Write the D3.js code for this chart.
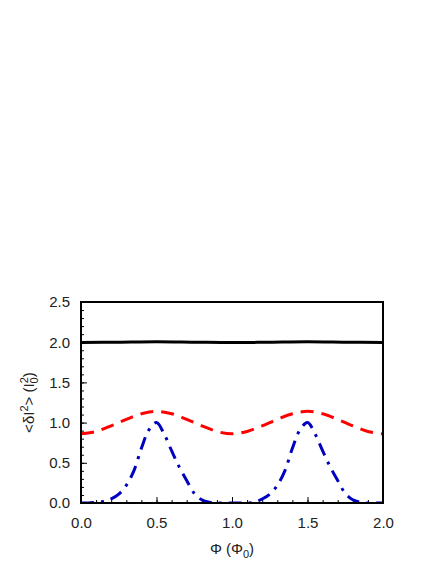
<!DOCTYPE html>
<html>
<head>
<meta charset="utf-8">
<script src="https://cdn.jsdelivr.net/npm/d3@7"></script>
<style>
  body { margin: 0; background: #fff; }
  text { font-family: "Liberation Sans", Arial, sans-serif; }
</style>
</head>
<body>
<div id="chart"></div>
<script>
// flux values (Phi / Phi0)
const phiBlack = [0, 0.25, 0.5, 0.75, 1.0, 1.25, 1.5, 1.75, 2.0];
const black = [1.995, 2.0, 2.005, 2.0, 1.995, 2.0, 2.005, 2.0, 1.995];

const phiRed = [0, 0.1, 0.2, 0.3, 0.4, 0.5, 0.6, 0.7, 0.8, 0.9, 1.0,
                1.1, 1.2, 1.3, 1.4, 1.5, 1.6, 1.7, 1.8, 1.9, 2.0];
const red = [0.86, 0.89, 0.96, 1.04, 1.11, 1.14, 1.11, 1.04, 0.96, 0.89, 0.86,
             0.89, 0.96, 1.04, 1.11, 1.14, 1.11, 1.04, 0.96, 0.89, 0.86];

const phiBlue = [0, 0.05, 0.1, 0.15, 0.2, 0.25, 0.3, 0.35, 0.4, 0.45, 0.5,
                 0.55, 0.6, 0.65, 0.7, 0.75, 0.8, 0.85, 0.9, 0.95, 1.0,
                 1.05, 1.1, 1.15, 1.2, 1.25, 1.3, 1.35, 1.4, 1.45, 1.5,
                 1.55, 1.6, 1.65, 1.7, 1.75, 1.8, 1.85, 1.9, 1.95, 2.0];
const blue = [0, 0, 0.01, 0.02, 0.05, 0.11, 0.22, 0.40, 0.68, 0.91, 1.0,
              0.86, 0.65, 0.45, 0.28, 0.12, 0.04, 0.01, 0, 0, 0,
              0, 0, 0.01, 0.05, 0.11, 0.22, 0.40, 0.68, 0.91, 1.0,
              0.86, 0.65, 0.45, 0.28, 0.12, 0.04, 0.01, 0, 0, 0];

const xTicks = [0, 0.5, 1.0, 1.5, 2.0];
const yTicks = [0, 0.5, 1.0, 1.5, 2.0, 2.5];

let w = 436, h = 564;
let mLeft = 81, mRight = 383, mTop = 302, mBottom = 503;

let svg = d3.select("#chart").append("svg")
    .attr("width", w)
    .attr("height", h);

let xScale = d3.scaleLinear().domain([0, 2]).range([mLeft, mRight]);
let yScale = d3.scaleLinear().domain([0, 2.5]).range([mBottom, mTop]);

svg.append("clipPath").attr("id", "plot")
    .append("rect")
    .attr("x", mLeft).attr("y", mTop)
    .attr("width", mRight - mLeft).attr("height", mBottom - mTop);

// minor ticks, inward
let xAxis = d3.axisBottom(xScale).tickValues(d3.range(0, 2.001, 0.1))
    .tickSize(-3).tickFormat("");
let yAxis = d3.axisLeft(yScale).tickValues(d3.range(0, 2.501, 0.1))
    .tickSize(-3).tickFormat("");

svg.append("g").attr("transform", "translate(0," + mBottom + ")").call(xAxis);
svg.append("g").attr("transform", "translate(" + mLeft + ",0)").call(yAxis);

// major ticks with labels
svg.append("g")
    .attr("transform", "translate(0," + mBottom + ")")
    .call(d3.axisBottom(xScale).tickValues(xTicks).tickSize(-6).tickPadding(14)
        .tickFormat(d3.format(".1f")));
svg.append("g")
    .attr("transform", "translate(" + mLeft + ",0)")
    .call(d3.axisLeft(yScale).tickValues(yTicks).tickSize(-6).tickPadding(11)
        .tickFormat(d3.format(".1f")));

svg.selectAll(".domain").remove();
svg.selectAll(".tick line").attr("stroke", "#000").attr("stroke-width", 1);
svg.selectAll(".tick text")
    .attr("font-size", 15)
    .attr("font-family", "Liberation Sans, Arial, sans-serif")
    .attr("fill", "#222");

let line = d3.line()
    .x(d => xScale(d[0]))
    .y(d => yScale(d[1]))
    .curve(d3.curveCatmullRom);

let g = svg.append("g").attr("clip-path", "url(#plot)");

g.append("path")
    .datum(phiBlue.map((p, i) => [p, blue[i]]))
    .attr("d", line)
    .attr("fill", "none")
    .attr("stroke", "#0000c0")
    .attr("stroke-width", 3)
    .attr("stroke-dasharray", "13,7,3,7");

g.append("path")
    .datum(phiRed.map((p, i) => [p, red[i]]))
    .attr("d", line)
    .attr("fill", "none")
    .attr("stroke", "#ff0000")
    .attr("stroke-width", 3)
    .attr("stroke-dasharray", "13,8");

g.append("path")
    .datum(phiBlack.map((p, i) => [p, black[i]]))
    .attr("d", line)
    .attr("fill", "none")
    .attr("stroke", "#000")
    .attr("stroke-width", 3);

// frame
svg.append("rect")
    .attr("x", mLeft).attr("y", mTop)
    .attr("width", mRight - mLeft).attr("height", mBottom - mTop)
    .attr("fill", "none")
    .attr("stroke", "#000")
    .attr("stroke-width", 2);

// axis titles
let xt = svg.append("text")
    .attr("x", (mLeft + mRight) / 2)
    .attr("y", 554)
    .attr("text-anchor", "middle")
    .attr("font-size", 15)
    .attr("fill", "#222");
xt.append("tspan").text("Φ (Φ");
xt.append("tspan").attr("font-size", 11).attr("dy", 4).text("0");
xt.append("tspan").attr("dy", -4).text(")");

let yt = svg.append("text")
    .attr("transform", "translate(34," + ((mTop + mBottom) / 2) + ") rotate(-90)")
    .attr("text-anchor", "middle")
    .attr("font-size", 15)
    .attr("fill", "#222");
yt.append("tspan").text("<δI");
yt.append("tspan").attr("font-size", 11).attr("dy", -6).text("2");
yt.append("tspan").attr("dy", 6).text("> (I");
yt.append("tspan").attr("font-size", 11).attr("dy", 4).text("0");
yt.append("tspan").attr("font-size", 11).attr("dy", -10).attr("dx", -6).text("2");
yt.append("tspan").attr("dy", 6).text(")");
</script>
</body>
</html>
